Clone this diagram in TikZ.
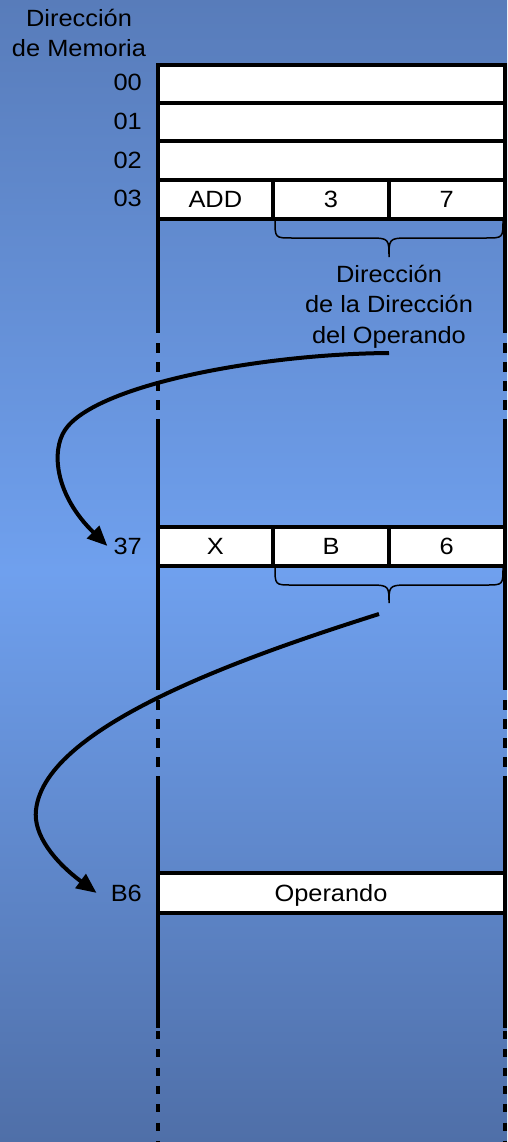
\documentclass[tikz,border=0pt]{standalone}
\usepackage{fontspec}
\setmainfont{Liberation Sans}[FakeStretch=1.08]
\usetikzlibrary{arrows.meta}
\definecolor{bgtop}{RGB}{88,124,186}
\definecolor{bgmid}{RGB}{111,160,238}
\definecolor{bgbot}{RGB}{79,111,168}
\begin{document}
\begin{tikzpicture}[x=1pt,y=-1pt,
  every node/.style={font=\fontsize{23.5}{30.5}\selectfont},
  cell/.style={draw=black, fill=white, line width=4pt, inner sep=0pt, outer sep=0pt, text height=16.5pt, text depth=0pt},
  addr/.style={anchor=base east, inner sep=0pt},
  rail/.style={line width=4pt},
  broken/.style={line width=4pt, dash pattern=on 10pt off 9pt},
  curly/.style={line width=1.5pt},
  link/.style={line width=4pt, -{Triangle[length=20pt,width=17pt]}}]
\shade[top color=bgtop, bottom color=bgbot, middle color=bgmid] (0,0) rectangle (507,1142);
\useasboundingbox (0,0) rectangle (507,1142);

% rails
\foreach \x in {157.5,504.5}{
  \draw[rail] (\x,65) -- (\x,333);
  \draw[broken] (\x,343) -- (\x,430);
  \draw[rail] (\x,429) -- (\x,690);
  \draw[broken] (\x,700) -- (\x,777);
  \draw[rail] (\x,776) -- (\x,1028);
  \draw[line width=4pt, dash pattern=on 8pt off 10.3pt] (\x,1031) -- (\x,1142);
}

% header (base anchor = baseline of last line)
\node[anchor=base, align=center] (hdr) at (79,57) {Dirección\\de Memoria};

% memory rows
\node[cell, minimum width=347pt, minimum height=38pt] (r00) at (331,84) {};
\node[cell, minimum width=347pt, minimum height=38.5pt] (r01) at (331,122.25) {};
\node[cell, minimum width=347pt, minimum height=38.5pt] (r02) at (331,160.75) {};
\node[cell, minimum width=115.7pt, minimum height=39pt] (r03a) at (215.35,199.5) {ADD};
\node[cell, minimum width=115.7pt, minimum height=39pt] (r03b) at (331,199.5) {3};
\node[cell, minimum width=115.7pt, minimum height=39pt] (r03c) at (446.65,199.5) {7};
\node[cell, minimum width=115.7pt, minimum height=39pt] (r37a) at (215.35,546.5) {X};
\node[cell, minimum width=115.7pt, minimum height=39pt] (r37b) at (331,546.5) {B};
\node[cell, minimum width=115.7pt, minimum height=39pt] (r37c) at (446.65,546.5) {6};
\node[cell, minimum width=347pt, minimum height=40pt] (rB6) at (331,893) {Operando};

% address labels
\node[addr] (l00) at (142,91) {00};
\node[addr] (l01) at (142,129.5) {01};
\node[addr] (l02) at (142,168) {02};
\node[addr] (l03) at (142,206.5) {03};
\node[addr] (l37) at (142,554) {37};
\node[addr] (lB6) at (142,901) {B6};

% braces
\draw[curly] (275,220) .. controls (275,238) and (275,238) .. (292,238) -- (372,238)
  .. controls (389,238) and (389,240) .. (389,257)
  .. controls (389,240) and (389,238) .. (406,238) -- (486,238)
  .. controls (503,238) and (503,238) .. (503,220);
\draw[curly] (275,567) .. controls (275,585) and (275,585) .. (292,585) -- (372,585)
  .. controls (389,585) and (389,587) .. (389,603)
  .. controls (389,587) and (389,585) .. (406,585) -- (486,585)
  .. controls (503,585) and (503,585) .. (503,567);

\node[anchor=base, align=center] (dop) at (389,343) {Dirección\\de la Dirección\\del Operando};

% arrows
\coordinate (s1) at (389,353);
\coordinate (t37) at ([xshift=-6pt]l37.west);
\draw[link] (s1) .. controls (260,354) and (95,385) .. (65,430)
  .. controls (51,451) and (55,495) .. (t37);
\coordinate (s2) at (379,614);
\coordinate (tB6) at ([xshift=-14pt]lB6.west);
\draw[link] (s2) .. controls (250,655) and (45,725) .. (36,810)
  .. controls (33,835) and (55,862) .. (tB6);
\end{tikzpicture}
\end{document}
